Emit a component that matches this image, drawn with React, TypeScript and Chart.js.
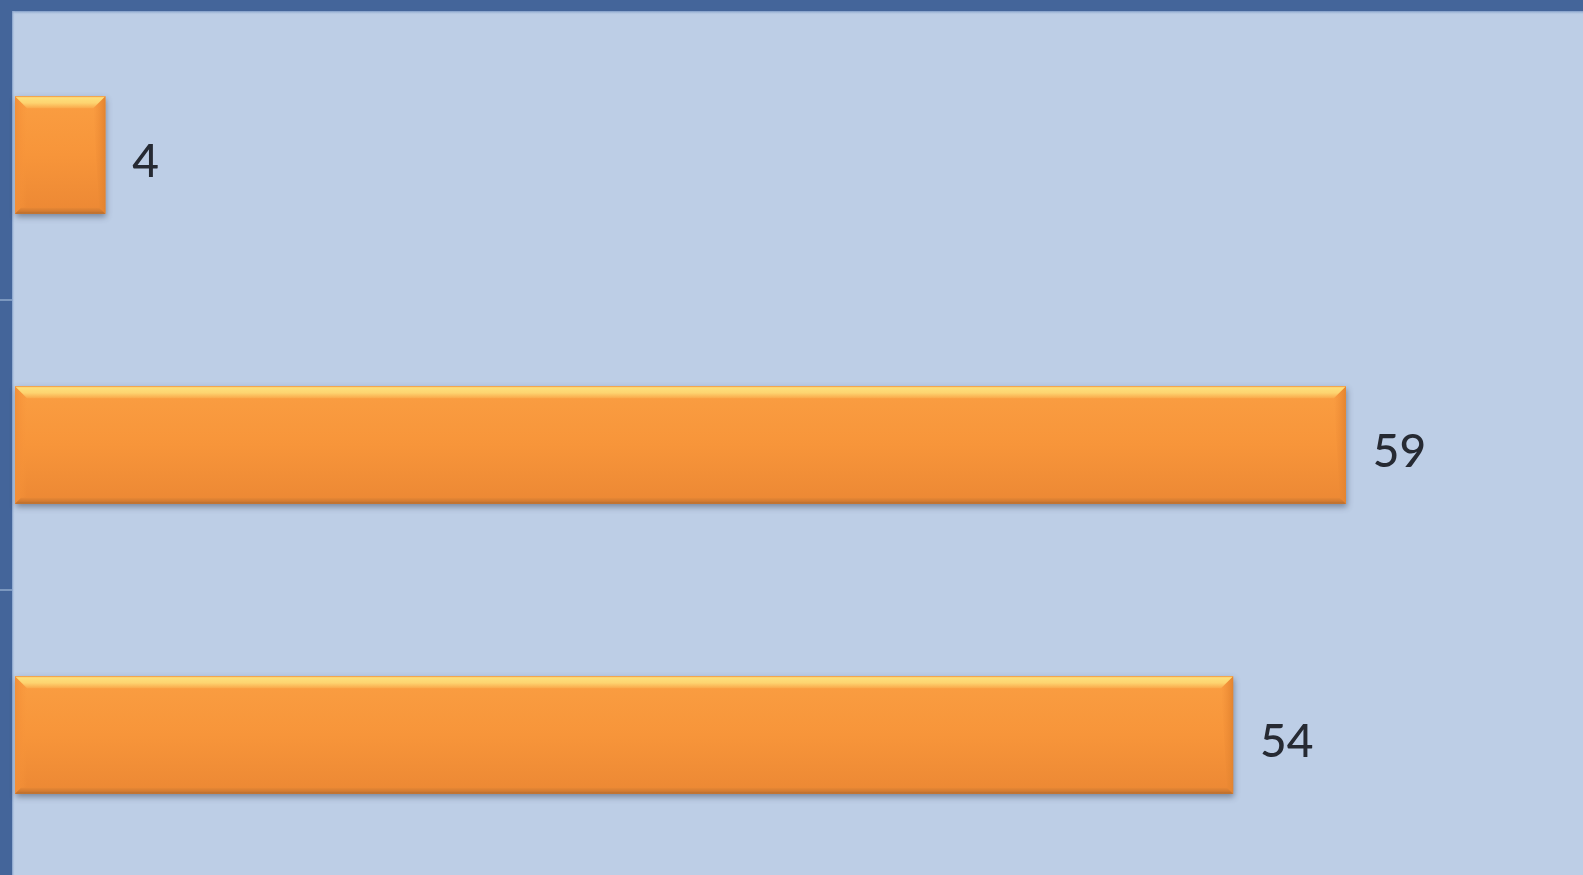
import React, { useEffect, useRef } from "react";
import { Chart, registerables } from "chart.js";

Chart.register(...registerables);

const categories: string[] = ["A", "B", "C"];
const values: number[] = [4, 59, 54];
const axisMin = 0;
const axisMax = 70;

const BG = "#BDCEE6";
const FRAME = "#44659A";

const framePlugin = {
  id: "frame",
  beforeDraw(chart: any) {
    const { ctx, width, height } = chart;
    ctx.save();
    ctx.fillStyle = BG;
    ctx.fillRect(0, 0, width, height);
    ctx.fillStyle = FRAME;
    ctx.fillRect(0, 0, width, 11);
    const g = ctx.createLinearGradient(0, 11, 0, 15);
    g.addColorStop(0, "rgba(120,150,195,0.9)");
    g.addColorStop(1, "rgba(189,206,230,0)");
    ctx.fillStyle = g;
    ctx.fillRect(0, 11, width, 4);
    ctx.fillStyle = FRAME;
    ctx.fillRect(0, 0, 12, height);
    const g2 = ctx.createLinearGradient(12, 0, 15, 0);
    g2.addColorStop(0, "rgba(120,150,195,0.9)");
    g2.addColorStop(1, "rgba(189,206,230,0)");
    ctx.fillStyle = g2;
    ctx.fillRect(12, 11, 3, height);
    const ys = chart.scales.y;
    ctx.strokeStyle = "rgba(150,175,210,0.9)";
    ctx.lineWidth = 1.5;
    for (let i = 0; i < categories.length - 1; i++) {
      const p = (ys.getPixelForValue(i) + ys.getPixelForValue(i + 1)) / 2;
      ctx.beginPath();
      ctx.moveTo(0, p);
      ctx.lineTo(12, p);
      ctx.stroke();
    }
    ctx.restore();
  },
  beforeDatasetsDraw(chart: any) {
    const { ctx } = chart;
    const meta = chart.getDatasetMeta(0);
    ctx.save();
    meta.data.forEach((el: any) => {
      const { x, y, base, height } = el.getProps(["x", "y", "base", "height"], true);
      const T = y - height / 2;
      ctx.shadowColor = "rgba(40,50,70,0.45)";
      ctx.shadowBlur = 6;
      ctx.shadowOffsetX = 1;
      ctx.shadowOffsetY = 3;
      ctx.fillStyle = "#E8893A";
      ctx.fillRect(base, T, x - base, height);
    });
    ctx.restore();
  },
  afterDatasetsDraw(chart: any) {
    const { ctx } = chart;
    const meta = chart.getDatasetMeta(0);
    ctx.save();
    meta.data.forEach((el: any, i: number) => {
      const { x, y, base, height } = el.getProps(["x", "y", "base", "height"], true);
      const L = base;
      const R = x;
      const T = y - height / 2;
      const B = y + height / 2;
      const body = ctx.createLinearGradient(0, T, 0, B);
      body.addColorStop(0, "#FA9E42");
      body.addColorStop(0.5, "#F7953A");
      body.addColorStop(1, "#EC8834");
      ctx.fillStyle = body;
      ctx.fillRect(L, T, R - L, height);
      const b = 12;
      const lg = ctx.createLinearGradient(L, 0, L + b, 0);
      lg.addColorStop(0, "#F28E38");
      lg.addColorStop(1, "rgba(247,149,58,0)");
      ctx.fillStyle = lg;
      ctx.beginPath();
      ctx.moveTo(L, T);
      ctx.lineTo(L + b, T + b);
      ctx.lineTo(L + b, B - 6);
      ctx.lineTo(L, B);
      ctx.closePath();
      ctx.fill();
      const rg = ctx.createLinearGradient(R - b, 0, R, 0);
      rg.addColorStop(0, "rgba(240,140,55,0)");
      rg.addColorStop(1, "#E3842F");
      ctx.fillStyle = rg;
      ctx.beginPath();
      ctx.moveTo(R, T);
      ctx.lineTo(R, B);
      ctx.lineTo(R - 6, B - 6);
      ctx.lineTo(R - b, T + b);
      ctx.closePath();
      ctx.fill();
      const tg = ctx.createLinearGradient(0, T, 0, T + b);
      tg.addColorStop(0, "#F0A04A");
      tg.addColorStop(0.12, "#FDE07C");
      tg.addColorStop(0.55, "#FDD470");
      tg.addColorStop(1, "#FAA84A");
      ctx.fillStyle = tg;
      ctx.beginPath();
      ctx.moveTo(L, T);
      ctx.lineTo(R, T);
      ctx.lineTo(R - b, T + b);
      ctx.lineTo(L + b, T + b);
      ctx.closePath();
      ctx.fill();
      const bb = 6;
      const bg = ctx.createLinearGradient(0, B - bb, 0, B);
      bg.addColorStop(0, "#E88835");
      bg.addColorStop(0.6, "#D27A30");
      bg.addColorStop(1, "#B06A2E");
      ctx.fillStyle = bg;
      ctx.beginPath();
      ctx.moveTo(L, B);
      ctx.lineTo(R, B);
      ctx.lineTo(R - bb, B - bb);
      ctx.lineTo(L + bb, B - bb);
      ctx.closePath();
      ctx.fill();
      ctx.font = "500 46px Lato, 'Open Sans', sans-serif";
      ctx.fillStyle = "#262A33";
      ctx.textAlign = "left";
      ctx.textBaseline = "alphabetic";
      const txt = String(values[i]);
      const m = ctx.measureText(txt);
      const asc = m.actualBoundingBoxAscent || 33;
      ctx.fillText(txt, R + 27, y + asc / 2 + 5);
    });
    ctx.restore();
  },
};

export default function App() {
  const ref = useRef<HTMLCanvasElement | null>(null);

  useEffect(() => {
    document.body.style.margin = "0";
    document.body.style.overflow = "hidden";
    document.documentElement.style.overflow = "hidden";
    if (!ref.current) return;
    const chart = new Chart(ref.current, {
      type: "bar",
      data: {
        labels: categories,
        datasets: [
          {
            data: values,
            backgroundColor: "#F7953A",
            borderWidth: 0,
            categoryPercentage: 1,
            barPercentage: 0.405,
          },
        ],
      },
      options: {
        indexAxis: "y",
        responsive: false,
        animation: false,
        events: [],
        layout: { padding: { left: 15, top: 10, right: 0, bottom: 0 } },
        plugins: {
          legend: { display: false },
          tooltip: { enabled: false },
          title: { display: false },
        },
        scales: {
          x: { display: false, min: axisMin, max: axisMax },
          y: { display: false },
        },
      },
      plugins: [framePlugin],
    });
    return () => chart.destroy();
  }, []);

  return (
    <div
      style={{
        position: "fixed",
        left: 0,
        top: 0,
        width: 1583,
        height: 875,
        overflow: "hidden",
        background: BG,
      }}
    >
      <canvas ref={ref} width={1594} height={880} style={{ display: "block", width: 1594, height: 880 }} />
    </div>
  );
}
